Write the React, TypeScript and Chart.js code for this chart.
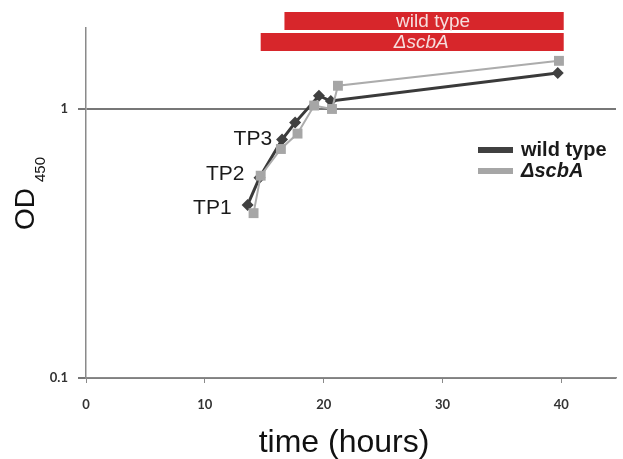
import React, { useEffect, useRef } from "react";
import { Chart, registerables } from "chart.js";

Chart.register(...registerables);

// ---- data ----
const WT_HOURS = [13.6, 14.6, 16.5, 17.6, 19.6, 20.6, 39.7];
const WT_OD = [0.44, 0.555, 0.77, 0.89, 1.12, 1.07, 1.36];
const SCBA_HOURS = [14.1, 14.7, 16.4, 17.8, 19.2, 20.7, 21.2, 39.8];
const SCBA_OD = [0.41, 0.565, 0.71, 0.81, 1.03, 1.0, 1.22, 1.51];
const SERIES_NAMES = ["wild type", "ΔscbA"];
const X_TICKS = [0, 10, 20, 30, 40];
const Y_TICKS = [0.1, 1];
const TP_LABELS = ["TP1", "TP2", "TP3"];
const PERIOD_LABELS = ["wild type", "ΔscbA"];
const PERIOD_START = [16.7, 14.7];
const PERIOD_END = [40.2, 40.2];

const FONT = "'Liberation Sans', Arial, sans-serif";
const DARK = "#404040";
const LIGHT = "#a6a6a6";
const RED = "#d7262b";

const overlay = {
  id: "overlay",
  afterDraw(chart: any) {
    const ctx = chart.ctx as CanvasRenderingContext2D;
    const xs = chart.scales.x;
    const ca = chart.chartArea;
    ctx.save();

    // period bars
    const rowTop = [ca.top - 16, ca.top + 5];
    for (let i = 0; i < PERIOD_LABELS.length; i++) {
      const x0 = xs.getPixelForValue(PERIOD_START[i]);
      const x1 = xs.getPixelForValue(PERIOD_END[i]);
      ctx.fillStyle = RED;
      ctx.fillRect(x0, rowTop[i], x1 - x0, 18);
      ctx.fillStyle = "#f6dede";
      ctx.font = (i === 1 ? "italic " : "") + "19px " + FONT;
      ctx.textAlign = "center";
      ctx.textBaseline = "middle";
      ctx.fillText(PERIOD_LABELS[i], (x0 + x1) / 2 + 9, rowTop[i] + 9.5);
    }

    // TP labels anchored to wild type points
    const meta = chart.getDatasetMeta(1);
    const offs = [
      [-16, 3],
      [-15, -4],
      [-10, 0],
    ];
    ctx.fillStyle = "#1a1a1a";
    ctx.font = "21px " + FONT;
    ctx.textAlign = "right";
    ctx.textBaseline = "middle";
    for (let i = 0; i < TP_LABELS.length; i++) {
      const p = meta.data[i];
      ctx.fillText(TP_LABELS[i], p.x + offs[i][0], p.y + offs[i][1]);
    }

    // legend
    const lx = ca.right - 138;
    const ly = ca.top + 122;
    const colors = [DARK, LIGHT];
    for (let i = 0; i < SERIES_NAMES.length; i++) {
      const y = ly + i * 21;
      ctx.fillStyle = colors[i];
      ctx.fillRect(lx, y - 3, 35, 6);
      ctx.fillStyle = "#1a1a1a";
      ctx.font = (i === 1 ? "italic " : "") + "bold 20px " + FONT;
      ctx.textAlign = "left";
      ctx.textBaseline = "middle";
      ctx.fillText(SERIES_NAMES[i], lx + 43, y);
    }

    // x title
    ctx.fillStyle = "#111";
    ctx.font = "32px " + FONT;
    ctx.textAlign = "center";
    ctx.textBaseline = "alphabetic";
    ctx.fillText("time (hours)", (ca.left + ca.right) / 2 - 7, ca.bottom + 74);

    // y title OD450 (rotated)
    ctx.translate(34, (ca.top + ca.bottom) / 2 + 27);
    ctx.rotate(-Math.PI / 2);
    ctx.textAlign = "left";
    ctx.font = "28px " + FONT;
    ctx.fillText("OD", 0, 0);
    const w = ctx.measureText("OD").width;
    ctx.font = "15px " + FONT;
    ctx.fillText("450", w + 6, 11);
    ctx.restore();
  },
};

export default function App() {
  const ref = useRef<HTMLCanvasElement>(null);
  useEffect(() => {
    document.body.style.margin = "0";
    const tickFont = { family: "Lato, 'Liberation Sans', sans-serif", size: 13, weight: "bold" as const };
    const chart = new Chart(ref.current!, {
      type: "line",
      data: {
        datasets: [
          {
            label: SERIES_NAMES[1],
            data: SCBA_HOURS.map((x, i) => ({ x, y: SCBA_OD[i] })),
            borderColor: "#acacac",
            backgroundColor: LIGHT,
            pointBackgroundColor: LIGHT,
            pointBorderWidth: 0,
            pointStyle: "rect",
            pointRadius: 7,
            borderWidth: 2,
            order: 0,
          },
          {
            label: SERIES_NAMES[0],
            data: WT_HOURS.map((x, i) => ({ x, y: WT_OD[i] })),
            borderColor: "#3a3a3a",
            backgroundColor: DARK,
            pointBackgroundColor: DARK,
            pointBorderWidth: 0,
            pointStyle: "rectRot",
            pointRadius: 6,
            borderWidth: 3,
            order: 1,
          },
        ],
      },
      options: {
        animation: false,
        responsive: false,
        devicePixelRatio: 1,
        layout: { padding: { top: 28, right: 5, left: 0, bottom: 0 } },
        plugins: { legend: { display: false }, tooltip: { enabled: false } },
        scales: {
          x: {
            type: "linear",
            min: 0,
            max: 44.6,
            afterBuildTicks: (s: any) => {
              s.ticks = X_TICKS.map((v) => ({ value: v }));
            },
            afterFit: (s: any) => {
              s.height = 81;
            },
            grid: { drawOnChartArea: false, tickLength: 5, color: "#8a8a8a" },
            border: { color: "#8a8a8a", width: 1.5 },
            ticks: { padding: 14, font: tickFont, color: "#333", maxRotation: 0 },
          },
          y: {
            type: "logarithmic",
            min: 0.1,
            max: 2,
            afterBuildTicks: (s: any) => {
              s.ticks = Y_TICKS.map((v) => ({ value: v }));
            },
            afterFit: (s: any) => {
              s.width = 86;
            },
            grid: { color: "#777", lineWidth: 2, tickLength: 8 },
            border: { color: "#8a8a8a", width: 1.5 },
            ticks: {
              padding: 10,
              font: tickFont,
              color: "#333",
              callback: (v: any) => String(v),
            },
          },
        },
      },
      plugins: [overlay],
    });
    return () => chart.destroy();
  }, []);
  return (
    <div style={{ width: 623, height: 459 }}>
      <canvas ref={ref} width={623} height={459} />
    </div>
  );
}
